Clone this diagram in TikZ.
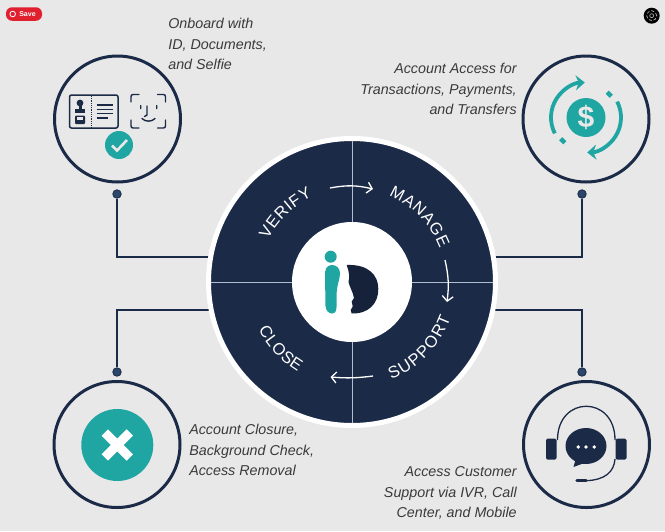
\documentclass[tikz,border=0pt]{standalone}
\usepackage{fontspec}
\setmainfont{Liberation Sans}
\usetikzlibrary{arrows.meta, decorations.text}
\definecolor{navy}{HTML}{1B2A47}
\definecolor{teal1}{HTML}{1FA5A2}
\definecolor{paper}{HTML}{E8E8E8}
\definecolor{dotblue}{HTML}{2A4668}
\definecolor{caption}{HTML}{3A3A3C}
\definecolor{hair}{HTML}{B4BDD0}
\definecolor{pinred}{HTML}{E0202F}
\newcommand{\capsfont}{\fontsize{16.5}{16.5}\selectfont\color{white}}

\begin{document}
\begin{tikzpicture}[x=1pt, y=1pt, semithick,
		ring/.style={circle, draw=navy, line width=3pt, minimum size=126pt, inner sep=0pt},
		dot/.style={circle, fill=dotblue, draw=navy, line width=0.8pt, minimum size=8.5pt, inner sep=0pt},
		link/.style={draw=navy, line width=1.6pt},
		note/.style={font=\fontsize{14.3}{20.5}\selectfont\itshape, text=caption, inner sep=0pt},
		turn/.style={-{Straight Barb[length=5pt, width=11pt]}, draw=white, line width=1.3pt},
		arctext/.style={decorate, decoration={text along path, text={|\capsfont|#1}, text align=fit to path}},
		ink/.style={draw=navy, line width=1.4pt, line cap=round},
		swirl/.style={draw=teal1, line width=3.8pt, -{Stealth[length=9pt, width=15pt]}}]
		\fill[paper] (0,-531) rectangle (665,0);

		\node[ring] (verifyring) at (117.5,-119) {};
		\node[ring] (managering) at (586,-119) {};
		\node[ring] (closering) at (117,-444.5) {};
		\node[ring] (supportring) at (586.5,-444.5) {};

		\node[dot] (verifydot) at (117,-194) {};
		\node[dot] (managedot) at (582,-194) {};
		\node[dot] (closedot) at (117,-372) {};
		\node[dot] (supportdot) at (582,-372) {};

		\coordinate (verifyend) at (210,-257);
		\coordinate (manageend) at (494,-257);
		\coordinate (closeend) at (210,-310);
		\coordinate (supportend) at (494,-310);

		\path[link] (verifydot) |- (verifyend)
			(managedot) |- (manageend)
			(closedot) |- (closeend)
			(supportdot) |- (supportend);

		\node[circle, fill=navy, draw=white, line width=5pt, minimum size=287pt, inner sep=0pt] (hub) at (352,-282) {};
		\draw[hair, line width=0.8pt] (352,-141) -- (352,-423) (211,-282) -- (493,-282);
		\node[circle, fill=white, minimum size=120pt, inner sep=0pt] (logo) at (352,-282) {};

		\path[arctext=VERIFY] (352,-282) ++(153:94pt) arc (153:115:94pt);
		\path[arctext=MANAGE] (352,-282) ++(67:94pt) arc (67:21:94pt);
		\path[arctext=SUPPORT] (352,-282) ++(-68:105pt) arc (-68:-20:105pt);
		\path[arctext=CLOSE] (352,-282) ++(207:105pt) arc (207:239:105pt);

		\coordinate (turn1a) at (330,-188);
		\coordinate (turn1b) at (373,-189);
		\coordinate (turn2a) at (445,-260);
		\coordinate (turn2b) at (447,-302);
		\coordinate (turn3a) at (373,-376);
		\coordinate (turn3b) at (330.5,-377);
		\draw[turn] (turn1a) to[bend left=12] (turn1b);
		\draw[turn] (turn2a) to[bend left=10] (turn2b);
		\draw[turn] (turn3a) to[bend left=6] (turn3b);

		\fill[teal1] (330.7,-256.7) circle (6pt);
		\fill[teal1] (332,-265) .. controls (326,-265) and (325,-270) .. (325,-275)
			-- (325.5,-306) .. controls (326,-311) and (329,-313.5) .. (332,-313.5)
			.. controls (335.5,-313.5) and (336.2,-311) .. (336.5,-307)
			-- (336.7,-292) .. controls (337,-285) and (340,-279) .. (340,-273)
			.. controls (340,-268) and (336,-265) .. (332,-265) -- cycle;
		\fill[navy!80!black] (346.7,-265) .. controls (349,-272) and (350,-276) .. (348.5,-282)
			.. controls (350,-288) and (353,-292) .. (354,-298) -- (351.7,-301.5)
			-- (352.7,-306.5) -- (350.7,-310) -- (351.7,-313.5)
			.. controls (369,-314) and (378.5,-303) .. (378.3,-289)
			.. controls (378.5,-275) and (368,-264) .. (346.7,-265) -- cycle;

		\draw[navy, line width=1.5pt, rounded corners=2pt] (69.5,-95) rectangle (118,-128);
		\draw[navy, line width=0.8pt, densely dotted] (91.7,-96) -- (91.7,-127);
		\fill[navy] (80,-103) circle (3.4pt);
		\fill[navy] (75,-112.5) rectangle (85,-108.5);
		\fill[navy] (78.5,-108.5) rectangle (81.5,-104);
		\fill[navy, rounded corners=1pt] (75,-124) rectangle (85,-115.5);
		\fill[paper] (76.8,-119.5) rectangle (83.2,-117.3);
		\draw[navy, line width=1.4pt] (96.7,-105) -- (112.7,-105)
			(96.7,-109.3) -- (112.7,-109.3)
			(96.7,-113.7) -- (112.7,-113.7)
			(96.7,-118) -- (108,-118);
		\draw[ink, rounded corners=2pt] (131,-102) |- (139,-94.5)
			(157.5,-94.5) -| (165.5,-102)
			(165.5,-120) |- (157.5,-128)
			(139,-128) -| (131,-120);
		\draw[ink] (140.7,-105.5) -- (140.7,-108.5)
			(156.7,-105.5) -- (156.7,-108.5)
			(147,-106) -- (147,-115) -- (144.5,-116.5);
		\draw[ink] (142,-118.5) .. controls (145,-122) and (152,-122) .. (155,-118.5);
		\node[circle, fill=teal1, minimum size=28pt, inner sep=0pt] (checkmark) at (119,-145) {};
		\draw[paper, line width=2.6pt] (112,-145.5) -- (117,-150.5) -- (127,-140);

		\node[circle, fill=teal1, minimum size=39pt, inner sep=0pt, text=paper, font=\fontsize{30}{30}\selectfont\bfseries] (dollar) at (586,-117.5) {\$};
		\draw[swirl] (586,-117.5) ++(207:35pt) arc (207:92:35pt);
		\draw[swirl] (586,-117.5) ++(27:35pt) arc (27:-88:35pt);
		\draw[teal1, line width=4.5pt] (586,-117.5) ++(50:33pt) arc (50:40:33pt);
		\draw[teal1, line width=4.5pt] (586,-117.5) ++(230:33pt) arc (230:220:33pt);

		\node[circle, fill=teal1, minimum size=72pt, inner sep=0pt] (closemark) at (117.3,-445) {};
		\draw[white, line width=9pt] (104.8,-432.5) -- (129.8,-457.5) (129.8,-432.5) -- (104.8,-457.5);

		\fill[navy, rounded corners=1.5pt] (546,-438.5) rectangle (556.5,-459.5);
		\fill[navy, rounded corners=1.5pt] (615.5,-438.5) rectangle (626.5,-459.5);
		\draw[navy, line width=1.3pt] (557.5,-440) .. controls (557.5,-395) and (615,-395) .. (615,-440)
			(615,-459) .. controls (614,-472) and (605,-480) .. (586,-480.7);
		\draw[navy, line width=3.5pt, line cap=round] (577,-480.7) -- (586,-480.7);
		\fill[navy] (586,-446) ellipse (20.5pt and 18pt);
		\fill[navy] (576,-458) -- (573.5,-467) -- (587,-462) -- cycle;
		\foreach \dotx in {578.3, 586, 594.3}
			\fill[white] (\dotx,-447) circle (1.9pt);

		\node[fill=pinred, rounded corners=6pt, minimum width=36pt, minimum height=13.5pt, inner sep=0pt] (savebox) at (24,-14) {};
		\draw[white, line width=0.8pt] (12.7,-14) circle (2.8pt);
		\node[text=white, inner sep=0pt, font=\fontsize{7}{7}\selectfont\bfseries] (savetext) at (27.5,-14) {Save};
		\node[circle, fill=black, minimum size=16pt, inner sep=0pt] (lens) at (651.7,-15.7) {};
		\draw[paper!70!black, line width=0.8pt, densely dashed] (651.7,-15.7) circle (5pt);
		\draw[paper!70!black, line width=0.7pt] (651.7,-15.7) circle (2pt);

		\node[note, anchor=west, align=left] (verifynote) at (168,-44) {Onboard with\\ID, Documents,\\and Selfie};
		\node[note, anchor=east, align=right] (managenote) at (517,-89) {Account Access for\\Transactions, Payments,\\and Transfers};
		\node[note, anchor=west, align=left] (closenote) at (189,-450) {Account Closure,\\Background Check,\\Access Removal};
		\node[note, anchor=east, align=right] (supportnote) at (517,-493) {Access Customer\\Support via IVR, Call\\Center, and Mobile};
	\end{tikzpicture}
\end{document}
